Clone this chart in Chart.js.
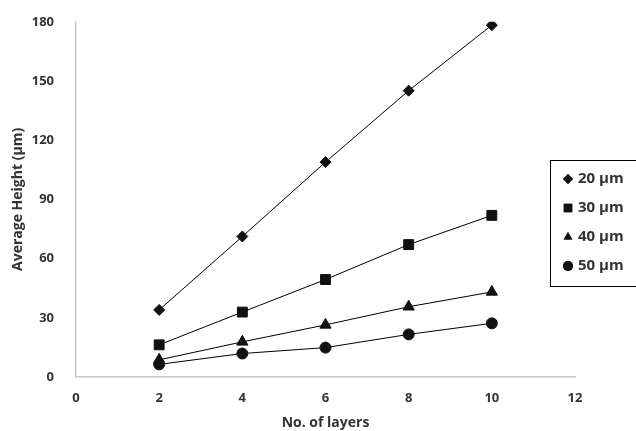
<!DOCTYPE html>
<html>
<head>
<meta charset="utf-8">
<script src="https://cdn.jsdelivr.net/npm/chart.js@4.4.1/dist/chart.umd.min.js"></script>
<style>
  html, body { margin: 0; padding: 0; background: #fff; }
  #wrap { width: 636px; height: 431px; }
</style>
</head>
<body>
<div id="wrap"><canvas id="chart"></canvas></div>
<script>
const layers = [2, 4, 6, 8, 10];
const h20 = [34, 71.2, 108.9, 145.1, 178.3];
const h30 = [16.3, 32.9, 49.4, 67.1, 81.9];
const h40 = [8.7, 17.8, 26.4, 35.6, 43.1];
const h50 = [6.4, 11.9, 14.9, 21.6, 27.2];
const seriesLabels = ['20 µm', '30 µm', '40 µm', '50 µm'];
const pointStyles = ['rectRot', 'rect', 'triangle', 'circle'];
const pointSizes = [5.5, 7, 6.5, 5.5];

const fontFamily = '"Open Sans", "Liberation Sans", sans-serif';
const textColor = '#333';

function toPoints(ys) {
  return layers.map((x, i) => ({ x: x, y: ys[i] }));
}

const datasets = [h20, h30, h40, h50].map((ys, i) => ({
  label: seriesLabels[i],
  data: toPoints(ys),
  borderColor: '#000',
  backgroundColor: '#000',
  borderWidth: 1,
  pointStyle: pointStyles[i],
  pointRadius: pointSizes[i],
  pointBackgroundColor: '#111',
  pointBorderColor: '#111',
  pointBorderWidth: 1,
  tension: 0
}));

// boxed legend on the right, drawn by hand so it can overlap the plot area
const boxLegend = {
  id: 'boxLegend',
  afterDraw(chart) {
    const ctx = chart.ctx;
    const left = 550.5, top = 160.5, right = 640, bottom = 286.5;
    ctx.save();
    ctx.strokeStyle = '#000';
    ctx.lineWidth = 1;
    ctx.strokeRect(left, top, right - left, bottom - top);
    ctx.font = 'bold 15px ' + fontFamily;
    ctx.textBaseline = 'middle';
    chart.data.datasets.forEach((ds, i) => {
      const y = 179 + i * 29;
      ctx.fillStyle = '#111';
      Chart.helpers.drawPoint(ctx, {
        pointStyle: ds.pointStyle,
        radius: ds.pointStyle === 'rect' ? 6 : 5,
        rotation: 0,
        borderWidth: 0
      }, 568, y);
      ctx.fill();
      ctx.fillStyle = textColor;
      ctx.fillText(ds.label, 578, y);
    });
    ctx.restore();
  }
};

new Chart(document.getElementById('chart'), {
  type: 'scatter',
  data: { datasets: datasets },
  options: {
    responsive: true,
    maintainAspectRatio: false,
    animation: false,
    showLine: true,
    layout: { padding: { top: 19, right: 61, left: 0, bottom: 0 } },
    plugins: {
      legend: { display: false },
      tooltip: { enabled: false }
    },
    scales: {
      x: {
        type: 'linear',
        min: 0,
        max: 12,
        grid: { display: false },
        border: { display: true, color: '#c8c8c8', width: 1.5 },
        ticks: {
          stepSize: 2,
          padding: 5,
          color: textColor,
          font: { family: fontFamily, size: 13, weight: 'bold' }
        },
        title: {
          display: true,
          text: 'No. of layers',
          color: textColor,
          padding: { top: 6, bottom: 0 },
          font: { family: fontFamily, size: 14, weight: 'bold' }
        },
        afterFit(scale) { scale.height = 54; }
      },
      y: {
        min: 0,
        max: 180,
        grid: { display: false },
        border: { display: true, color: '#c8c8c8', width: 1.5 },
        ticks: {
          stepSize: 30,
          padding: 14,
          color: textColor,
          font: { family: fontFamily, size: 13, weight: 'bold' }
        },
        title: {
          display: true,
          text: 'Average Height (µm)',
          color: textColor,
          padding: { top: 10, bottom: 0 },
          font: { family: fontFamily, size: 14, weight: 'bold' }
        },
        afterFit(scale) { scale.width = 76; }
      }
    }
  },
  plugins: [boxLegend]
});
</script>
</body>
</html>
